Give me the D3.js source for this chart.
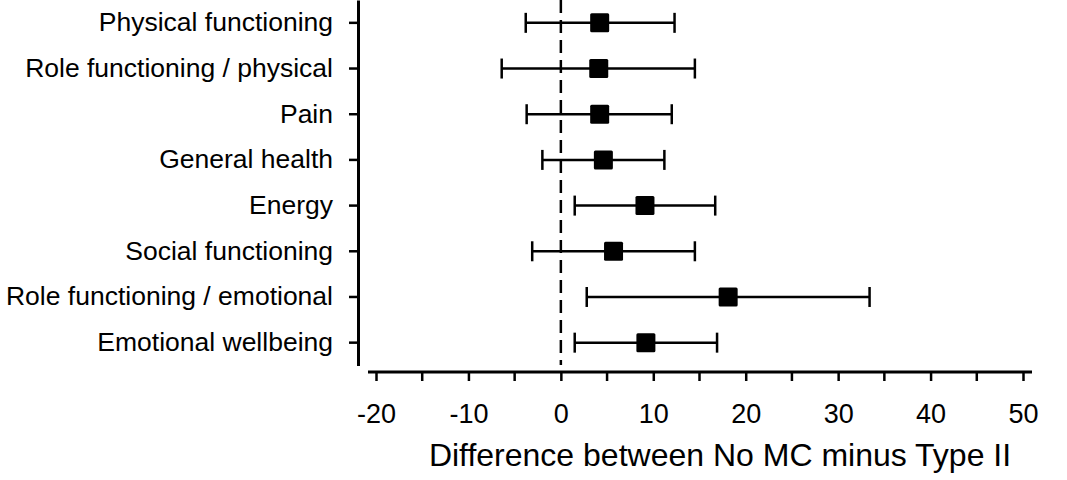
<!DOCTYPE html>
<html>
<head>
<meta charset="utf-8">
<script src="https://cdn.jsdelivr.net/npm/d3@7"></script>
<style>
  body { margin: 0; background: #fff; }
  text { font-family: "Liberation Sans", Arial, sans-serif; fill: #000; }
</style>
</head>
<body>
<svg id="forest" width="1067" height="480"></svg>
<script>
var categories = ["Physical functioning", "Role functioning / physical", "Pain", "General health",
    "Energy", "Social functioning", "Role functioning / emotional", "Emotional wellbeing"];
var means = [4.2, 4.1, 4.2, 4.6, 9.1, 5.7, 18.1, 9.2];
var lower = [-3.8, -6.4, -3.7, -2.0, 1.5, -3.1, 2.8, 1.5];
var upper = [12.3, 14.5, 12.0, 11.2, 16.7, 14.5, 33.4, 16.9];
var xTicks = [-20, -10, 0, 10, 20, 30, 40, 50];
var xMinorTicks = [-15, -5, 5, 15, 25, 35, 45];
var xTitle = "Difference between No MC minus Type II";

var svg = d3.select("svg#forest");

var rows = categories.map(function(c, i) {
    return { name: c, mean: means[i], lo: lower[i], hi: upper[i] };
});

var x = d3.scaleLinear()
    .domain([-20, 50])
    .range([376, 1023]);

var y = d3.scaleBand()
    .domain(categories)
    .range([0, 365.5]);

var yc = function(d) { return y(d) + y.bandwidth() / 2; };

// y axis
var yAxis = svg.append("g")
    .attr("transform", "translate(358,0)")
    .call(d3.axisLeft(y).tickSize(9).tickSizeOuter(0).tickPadding(16));
yAxis.select(".domain").attr("stroke-width", 3);
yAxis.selectAll(".tick line").attr("stroke-width", 2.5);
yAxis.selectAll("text")
    .style("font-size", "26.5px")
    .attr("font-family", null);

// x axis
var xAxis = svg.append("g")
    .attr("transform", "translate(0,372)")
    .call(d3.axisBottom(x).tickValues(xTicks).tickSize(9).tickSizeOuter(0)
        .tickFormat(function(d) { return String(d); }));
xAxis.select(".domain").remove();
xAxis.append("line")
    .attr("x1", x(-20) - 8).attr("x2", x(50) + 9)
    .attr("stroke", "#000").attr("stroke-width", 3);
xAxis.selectAll(".tick line").attr("stroke-width", 2.5);
xAxis.selectAll(".tick text")
    .attr("y", 51).attr("dy", 0)
    .style("font-size", "27px")
    .attr("font-family", null);

xAxis.selectAll(".minor")
    .data(xMinorTicks)
    .enter().append("line")
        .attr("class", "minor")
        .attr("x1", function(d) { return x(d); })
        .attr("x2", function(d) { return x(d); })
        .attr("y1", 0).attr("y2", 9)
        .attr("stroke", "#000").attr("stroke-width", 2.5);

svg.append("text")
    .attr("x", 720)
    .attr("y", 466)
    .attr("text-anchor", "middle")
    .style("font-size", "32px")
    .text(xTitle);

// reference line at zero
svg.append("line")
    .attr("x1", x(0)).attr("x2", x(0))
    .attr("y1", 0).attr("y2", 365)
    .attr("stroke", "#000")
    .attr("stroke-width", 2.5)
    .attr("stroke-dasharray", "13,7");

// error bars
var bars = svg.append("g").selectAll("g")
    .data(rows)
    .enter().append("g");

bars.append("line")
    .attr("x1", function(d) { return x(d.lo); })
    .attr("x2", function(d) { return x(d.hi); })
    .attr("y1", function(d) { return yc(d.name); })
    .attr("y2", function(d) { return yc(d.name); })
    .attr("stroke", "#000").attr("stroke-width", 2.5);

["lo", "hi"].forEach(function(k) {
    bars.append("line")
        .attr("x1", function(d) { return x(d[k]); })
        .attr("x2", function(d) { return x(d[k]); })
        .attr("y1", function(d) { return yc(d.name) - 10; })
        .attr("y2", function(d) { return yc(d.name) + 10; })
        .attr("stroke", "#000").attr("stroke-width", 2.5);
});

bars.append("rect")
    .attr("x", function(d) { return x(d.mean) - 9.5; })
    .attr("y", function(d) { return yc(d.name) - 9.5; })
    .attr("width", 19)
    .attr("height", 19)
    .attr("rx", 1.5)
    .attr("fill", "#000");
</script>
</body>
</html>
